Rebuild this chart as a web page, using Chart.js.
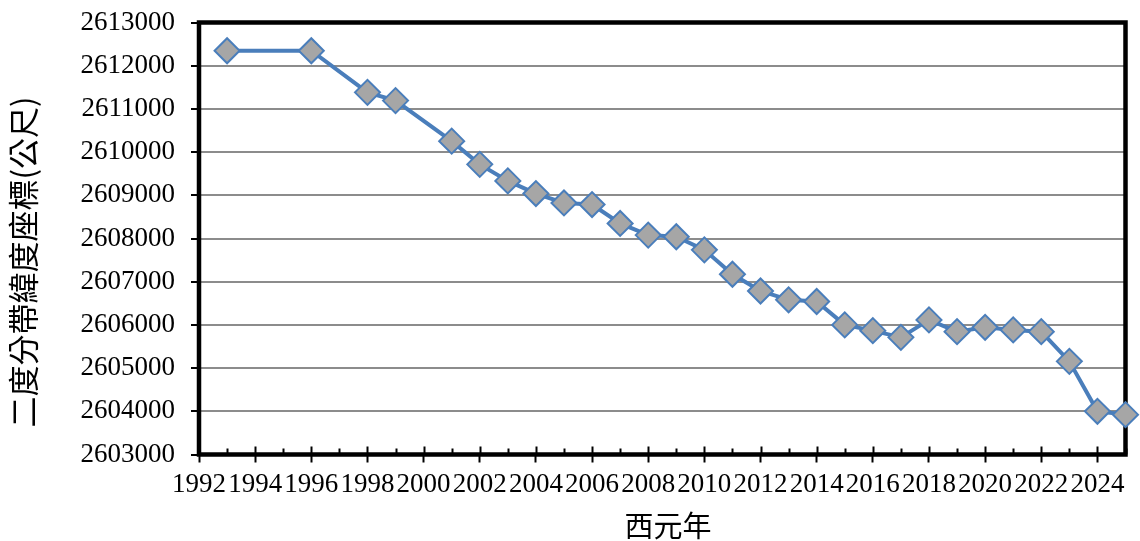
<!DOCTYPE html>
<html>
<head>
<meta charset="utf-8">
<title>二度分帶緯度座標</title>
<script src="https://cdn.jsdelivr.net/npm/chart.js@4/dist/chart.umd.min.js"></script>
<style>
  html, body { margin: 0; padding: 0; background: #ffffff; }
  #wrap { width: 1140px; height: 541px; }
</style>
</head>
<body>
<div id="wrap"><canvas id="c" width="1140" height="541"></canvas></div>
<script>
// Survey years and the northing (TWD 2-degree zone, metres) measured each year
const years = [1993, 1996, 1998, 1999, 2001, 2002, 2003, 2004, 2005, 2006,
               2007, 2008, 2009, 2010, 2011, 2012, 2013, 2014, 2015, 2016,
               2017, 2018, 2019, 2020, 2021, 2022, 2023, 2024, 2025];
const northing = [2612346, 2612346, 2611383, 2611192, 2610254, 2609716, 2609333, 2609040, 2608823, 2608786,
                  2608349, 2608079, 2608040, 2607737, 2607172, 2606784, 2606581, 2606542, 2606000, 2605867,
                  2605712, 2606116, 2605844, 2605944, 2605884, 2605844, 2605156, 2604000, 2603923];

// Axis ticks
const xTickYears = [1992, 1994, 1996, 1998, 2000, 2002, 2004, 2006, 2008,
                    2010, 2012, 2014, 2016, 2018, 2020, 2022, 2024];
const yTickValues = [2603000, 2604000, 2605000, 2606000, 2607000, 2608000,
                     2609000, 2610000, 2611000, 2612000, 2613000];
const xMin = 1992, xMax = 2025;
const yMin = 2603000, yMax = 2613000;

const yTitle = '二度分帶緯度座標(公尺)';
const xTitle = '西元年';

const points = years.map((y, i) => ({ x: y, y: northing[i] }));

const tickFont = { family: '"Liberation Serif", "Times New Roman", serif', size: 27 };

// Thick black frame round the plot area plus the small inner year ticks
const framePlugin = {
  id: 'frame',
  beforeDatasetsDraw(chart) {
    const { ctx, chartArea: a, scales } = chart;
    ctx.save();
    ctx.strokeStyle = '#000';
    ctx.lineWidth = 2;
    for (let yr = xMin; yr <= xMax; yr++) {
      const px = Math.round(scales.x.getPixelForValue(yr)) + 0.5;
      const len = (yr % 2 === 0) ? 8 : 6;
      ctx.beginPath();
      ctx.moveTo(px, a.bottom);
      ctx.lineTo(px, a.bottom - len);
      ctx.stroke();
    }
    ctx.lineWidth = 4.5;
    ctx.strokeRect(a.left, a.top, a.right - a.left, a.bottom - a.top);
    ctx.restore();
  }
};

// Axis titles
const titlesPlugin = {
  id: 'axisTitles',
  afterDraw(chart) {
    const { ctx } = chart;
    ctx.save();
    ctx.fillStyle = '#000';
    ctx.textAlign = 'center';
    ctx.textBaseline = 'middle';
    ctx.font = '29px "Noto Sans CJK TC"';
    ctx.fillText(xTitle, 668, 526);
    ctx.translate(23, 262);
    ctx.rotate(-Math.PI / 2);
    ctx.font = '31px "Noto Sans CJK TC"';
    ctx.fillText(yTitle, 0, 0);
    ctx.restore();
  }
};

const bgPlugin = {
  id: 'bg',
  beforeDraw(chart) {
    const { ctx, width, height } = chart;
    ctx.save();
    ctx.fillStyle = '#ffffff';
    ctx.fillRect(0, 0, width, height);
    ctx.restore();
  }
};

new Chart(document.getElementById('c'), {
  type: 'scatter',
  data: {
    datasets: [{
      data: points,
      showLine: true,
      clip: false,
      borderColor: '#4a7ebb',
      borderWidth: 4,
      pointStyle: 'rectRot',
      pointRadius: 12.5,
      pointHoverRadius: 12.5,
      pointBackgroundColor: '#a6a6a6',
      pointBorderColor: '#4a7ebb',
      pointBorderWidth: 2
    }]
  },
  options: {
    responsive: false,
    animation: false,
    events: [],
    layout: { padding: { top: 22.5, right: 14, left: 0, bottom: 0 } },
    plugins: {
      legend: { display: false },
      tooltip: { enabled: false }
    },
    scales: {
      x: {
        type: 'linear',
        min: xMin,
        max: xMax,
        bounds: 'data',
        afterBuildTicks(scale) { scale.ticks = xTickYears.map(v => ({ value: v })); },
        afterFit(scale) {
          scale.height = 541 - 454.5;
          scale.paddingLeft = 0;
          scale.paddingRight = 0;
        },
        grid: {
          drawOnChartArea: false,
          drawTicks: true,
          tickLength: 8,
          tickColor: '#000',
          tickWidth: 2
        },
        border: { display: false },
        ticks: {
          autoSkip: false,
          maxRotation: 0,
          padding: 6,
          color: '#000',
          font: tickFont,
          callback: v => String(v)
        }
      },
      y: {
        type: 'linear',
        min: yMin,
        max: yMax,
        bounds: 'data',
        afterBuildTicks(scale) { scale.ticks = yTickValues.map(v => ({ value: v })); },
        afterFit(scale) {
          scale.width = 199;
          scale.paddingTop = 0;
          scale.paddingBottom = 0;
        },
        grid: {
          color: '#8c8c8c',
          lineWidth: 2,
          drawTicks: true,
          tickLength: 8,
          tickColor: '#000',
          tickWidth: 2
        },
        border: { display: false },
        ticks: {
          autoSkip: false,
          padding: 16,
          color: '#000',
          font: tickFont,
          callback: v => String(v)
        }
      }
    }
  },
  plugins: [bgPlugin, framePlugin, titlesPlugin]
});
</script>
</body>
</html>
